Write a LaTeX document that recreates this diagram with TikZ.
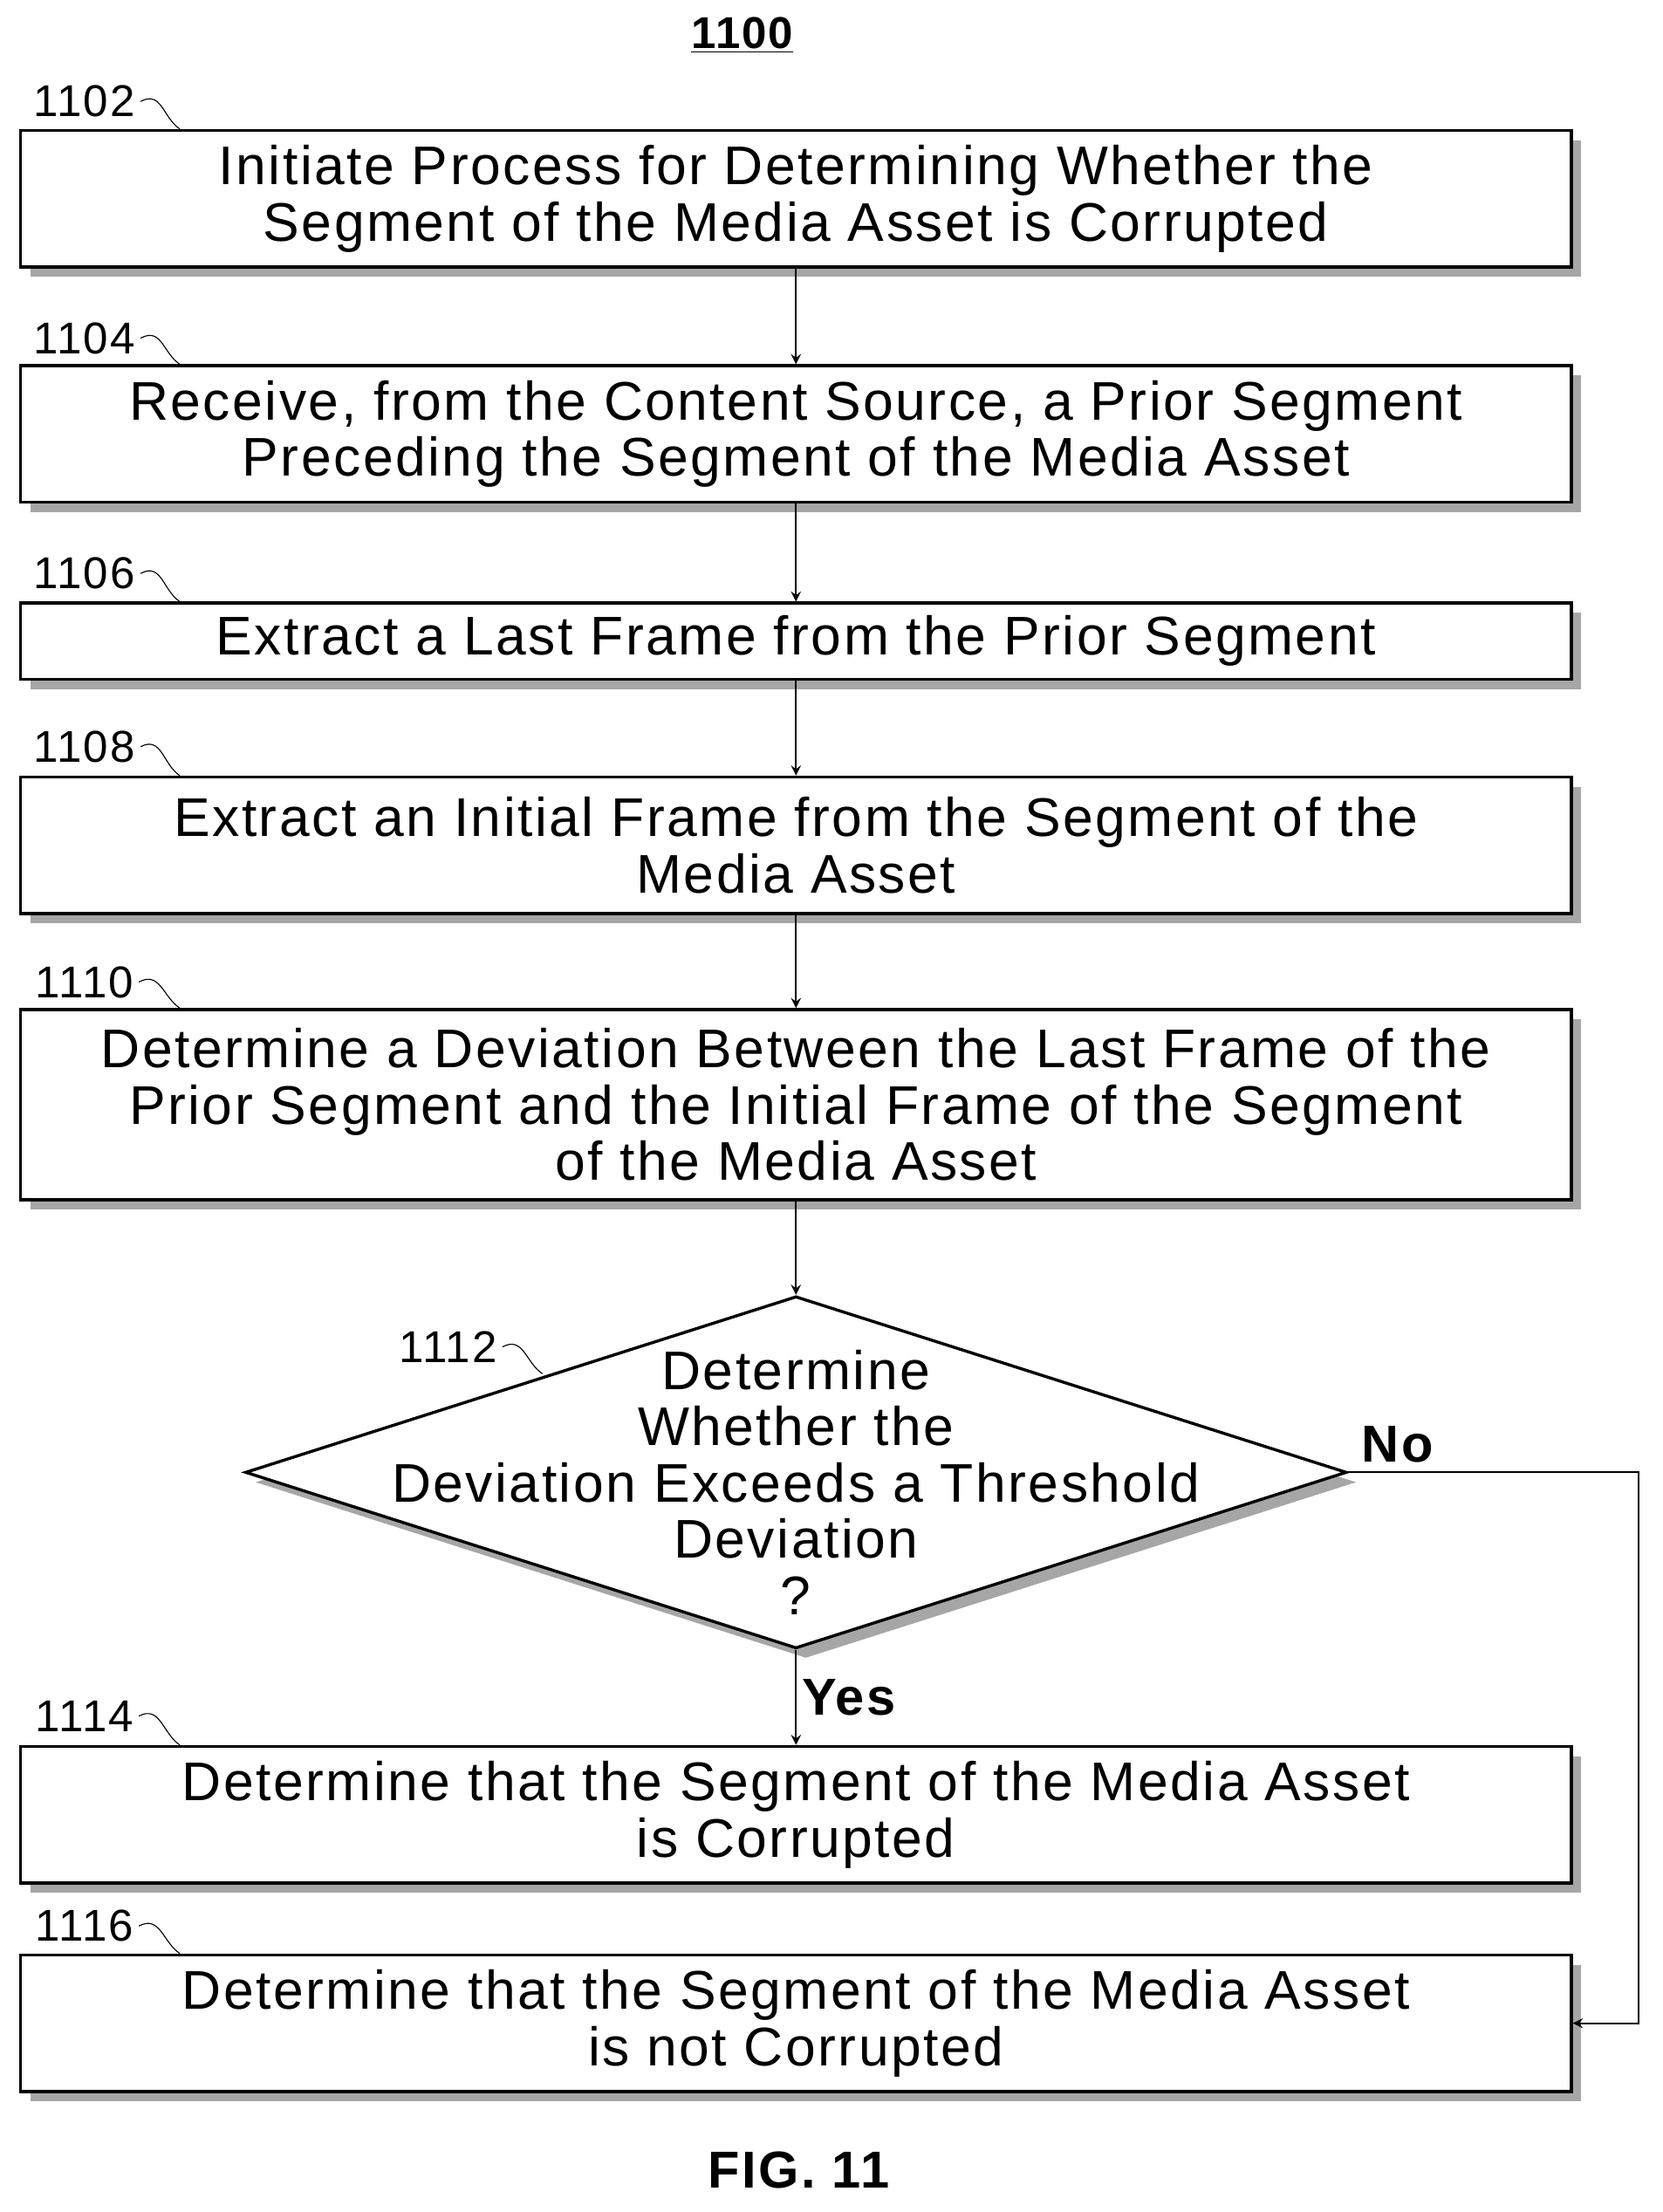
\documentclass[tikz,border=0pt]{standalone}
\usepackage{fontspec}
\setmainfont{Liberation Sans}[LetterSpace=4]
\usetikzlibrary{shapes.geometric,shadows,positioning}
\tikzset{
every node/.style={inner sep=2pt},
procbox/.style={rectangle, draw, very thick, fill=white, minimum width=22.02cm, align=center,
  font=\fontsize{22}{22.7}\selectfont, drop shadow={shadow xshift=4pt, shadow yshift=-4pt, fill=gray!70, opacity=1}},
reflab/.style={font=\fontsize{18}{20}\selectfont},
arr/.style={->, >=stealth, thick}
}
\begin{document}
\begin{tikzpicture}[x=0.02cm,y=-0.02cm]
\useasboundingbox (0,0) rectangle (1180,1570);
\node [font=\bfseries\fontsize{18}{20}\selectfont] (title) at (527,25) {\underline{1100}};
\node [procbox, minimum height=1.94cm] (b1102) at (565,141) {Initiate Process for Determining Whether the\\Segment of the Media Asset is Corrupted};
\node [procbox, minimum height=1.94cm] (b1104) at (565,308) {Receive, from the Content Source, a Prior Segment\\Preceding the Segment of the Media Asset};
\node [procbox, minimum height=1.08cm] (b1106) at (565,455) {Extract a Last Frame from the Prior Segment};
\node [procbox, minimum height=1.94cm] (b1108) at (565,600) {Extract an Initial Frame from the Segment of the\\Media Asset};
\node [procbox, minimum height=2.7cm] (b1110) at (565,784) {Determine a Deviation Between the Last Frame of the\\Prior Segment and the Initial Frame of the Segment\\of the Media Asset};
\node [diamond, draw, very thick, fill=white, minimum width=15.64cm, minimum height=5cm, inner sep=0pt,
  drop shadow={shadow xshift=4pt, shadow yshift=-4pt, fill=gray!70, opacity=1}] (b1112) at (565,1045) {};
\node [align=center, font=\fontsize{22}{22.7}\selectfont] (q1112) at (565,1052) {Determine\\Whether the\\Deviation Exceeds a Threshold\\Deviation\\?};
\node [procbox, minimum height=1.94cm] (b1114) at (565,1288) {Determine that the Segment of the Media Asset\\is Corrupted};
\node [procbox, minimum height=1.94cm] (b1116) at (565,1436) {Determine that the Segment of the Media Asset\\is not Corrupted};
\node [font=\bfseries\fontsize{21}{24}\selectfont] (fig) at (567,1540) {FIG. 11};

% reference numbers
\foreach \n/\x/\y in {1102/60/72, 1104/60/240, 1106/60/407, 1108/60/530, 1110/60/697, 1114/60/1218, 1116/60/1367}{
  \node [reflab] (l\n) at (\x,\y) {\n};
  \path (b\n.north west) ++(114,0) coordinate (e\n);
  \draw (l\n.east) .. controls +(15,-8) and +(-12,-8) .. (e\n);
}
\node [reflab] (l1112) at (318,956) {1112};
\coordinate (e1112) at (385,975);
\draw (l1112.east) .. controls +(15,-8) and +(-12,-8) .. (e1112);

\draw [arr] (b1102) -- (b1104);
\draw [arr] (b1104) -- (b1106);
\draw [arr] (b1106) -- (b1108);
\draw [arr] (b1108) -- (b1110);
\draw [arr] (b1110) -- (b1112);
\draw [arr] (b1112.south) -- node [right, font=\bfseries\fontsize{21}{24}\selectfont] {Yes} (b1114);
\coordinate (noturn) at (1163,1045);
\draw [arr] (b1112.east) -- (noturn) |- (b1116.east);
\node [font=\bfseries\fontsize{21}{24}\selectfont] (no) at (992,1025) {No};
\end{tikzpicture}
\end{document}
